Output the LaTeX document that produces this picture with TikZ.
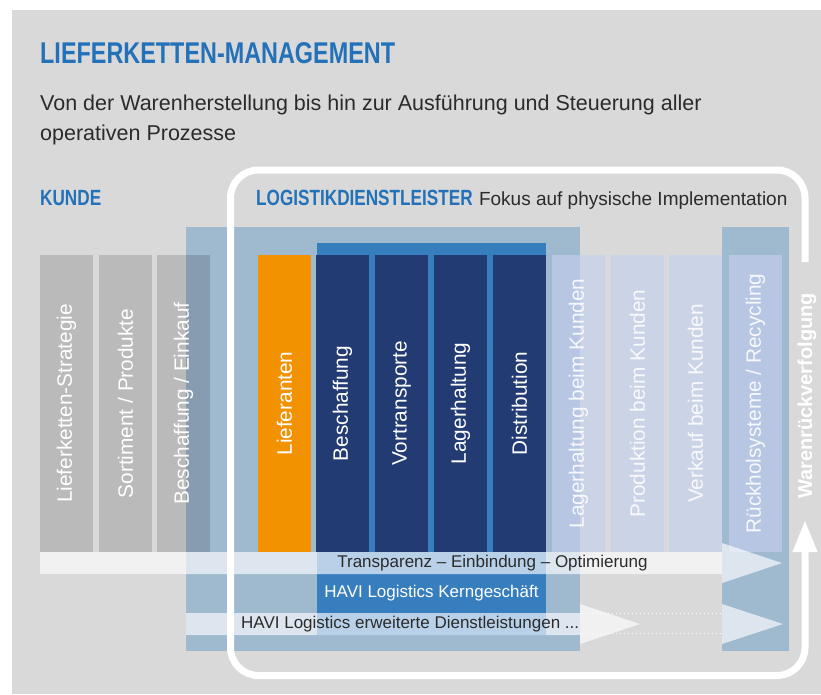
\documentclass[tikz,border=0pt]{standalone}
\usepackage{fontspec}
\setmainfont{Liberation Sans}
\newfontfamily\headfont[FakeStretch=0.78]{Liberation Sans}
\usetikzlibrary{arrows.meta}

\definecolor{bggray}{HTML}{D9D9D9}
\definecolor{bargray}{HTML}{BABABA}
\definecolor{mixgray}{HTML}{879CB0}
\definecolor{panelblue}{HTML}{9FB9CF}
\definecolor{midblue}{HTML}{377EBF}
\definecolor{navyblue}{HTML}{233B73}
\definecolor{supplyorange}{HTML}{F39200}
\definecolor{titleblue}{HTML}{2371B9}
\definecolor{paleblue}{HTML}{C5D0EE}
\definecolor{textgray}{HTML}{2B2B2B}

\tikzset{
  bar/.style={rotate=90, minimum width=297pt, minimum height=53pt, inner sep=0pt,
    fill=#1, text=white, font=\fontsize{20.8}{24}\selectfont},
  palebar/.style={bar=paleblue, fill opacity=0.65, text opacity=0.88},
  band/.style={fill=white, fill opacity=0.65},
  bandtext/.style={text=textgray, inner sep=0pt, font=\fontsize{17}{20}\selectfont},
  heading/.style={text=titleblue, inner sep=0pt, anchor=base west,
    font=\headfont\bfseries\fontsize{22}{26}\selectfont}
}

\begin{document}
\begin{tikzpicture}[x=1pt,y=-1pt]
  \useasboundingbox (0,0) rectangle (821,694);
  \fill[bggray] (12,10) rectangle (821,694);

  \node[heading, font=\headfont\bfseries\fontsize{30}{32}\selectfont] (title) at (40,63) {LIEFERKETTEN-MANAGEMENT};
  \node[anchor=base west, inner sep=0pt, text=textgray, font=\fontsize{21.5}{30}\selectfont] (intro1) at (40,110)
    {Von der Warenherstellung bis hin zur Ausführung und Steuerung aller};
  \node[anchor=base west, inner sep=0pt, text=textgray, font=\fontsize{21.5}{30}\selectfont] (intro2) at (40,140)
    {operativen Prozesse};
  \node[heading] (kunde) at (40,205) {KUNDE};
  \node[heading] (logistik) at (256,205) {LOGISTIKDIENSTLEISTER};
  \node[anchor=base west, inner sep=0pt, text=textgray, font=\fontsize{19}{22}\selectfont] (fokus)
    at ([xshift=6pt]logistik.base east) {Fokus auf physische Implementation};

  \fill[panelblue] (186,227) rectangle (580,651);
  \fill[panelblue] (722,227) rectangle (789,651);
  \fill[midblue] (317,243) rectangle (546,635);

  \node[bar=bargray] (strategie) at (66.5,403.5) {Lieferketten-Strategie};
  \node[bar=bargray] (sortiment) at (125.5,403.5) {Sortiment / Produkte};
  \node[bar=bargray] (einkauf) at (183.5,403.5) {};
  \fill[mixgray] (186,255) rectangle (210,552);
  \node[bar=none] (einkauftext) at (einkauf.center) {Beschaffung / Einkauf};
  \node[bar=supplyorange] (lieferanten) at (284.5,403.5) {Lieferanten};
  \node[bar=navyblue] (beschaffung) at (342.5,403.5) {Beschaffung};
  \node[bar=navyblue] (vortransporte) at (401.5,403.5) {Vortransporte};
  \node[bar=navyblue] (lagerhaltung) at (460.5,403.5) {Lagerhaltung};
  \node[bar=navyblue] (distribution) at (519.5,403.5) {Distribution};
  \node[palebar] (lagerkunde) at (578.5,403.5) {Lagerhaltung beim Kunden};
  \node[palebar] (produktion) at (637.5,403.5) {Produktion beim Kunden};
  \node[palebar] (verkauf) at (695.5,403.5) {Verkauf beim Kunden};
  \node[palebar] (rueckhol) at (755.5,403.5) {Rückholsysteme / Recycling};

  \fill[band] (40,552) -- (722,552) -- (722,543) -- (782,563) -- (722,583) -- (722,574) -- (40,574) -- cycle;
  \node[bandtext] (transparenz) at (492.5,563.5) {Transparenz -- Einbindung -- Optimierung};
  \node[bandtext, text=white] (kern) at (431.5,593.5) {HAVI Logistics Kerngeschäft};

  \draw[white, line width=1.3pt, dash pattern=on 1.3pt off 2.7pt] (580,613.5) -- (722,613.5);
  \draw[white, line width=1.3pt, dash pattern=on 1.3pt off 2.7pt] (580,633.5) -- (722,633.5);
  \fill[band] (186,613) -- (580,613) -- (580,604) -- (640,624) -- (580,644) -- (580,635) -- (186,635) -- cycle;
  \fill[band] (722,604) -- (783,624) -- (722,644) -- cycle;
  \node[bandtext, anchor=west] (erweitert) at (241,624) {HAVI Logistics erweiterte Dienstleistungen ...};

  \draw[white, line width=7pt, rounded corners=28pt, -{Triangle[width=23pt,length=32pt]}]
    (805,262) -- (805,170) -- (230.5,170) -- (230.5,675.5) -- (805,675.5) -- (805,520);
  \node[rotate=90, text=white, inner sep=0pt, font=\bfseries\fontsize{20}{24}\selectfont] (rueckverfolgung)
    at (807,396) {Warenrückverfolgung};
\end{tikzpicture}
\end{document}
